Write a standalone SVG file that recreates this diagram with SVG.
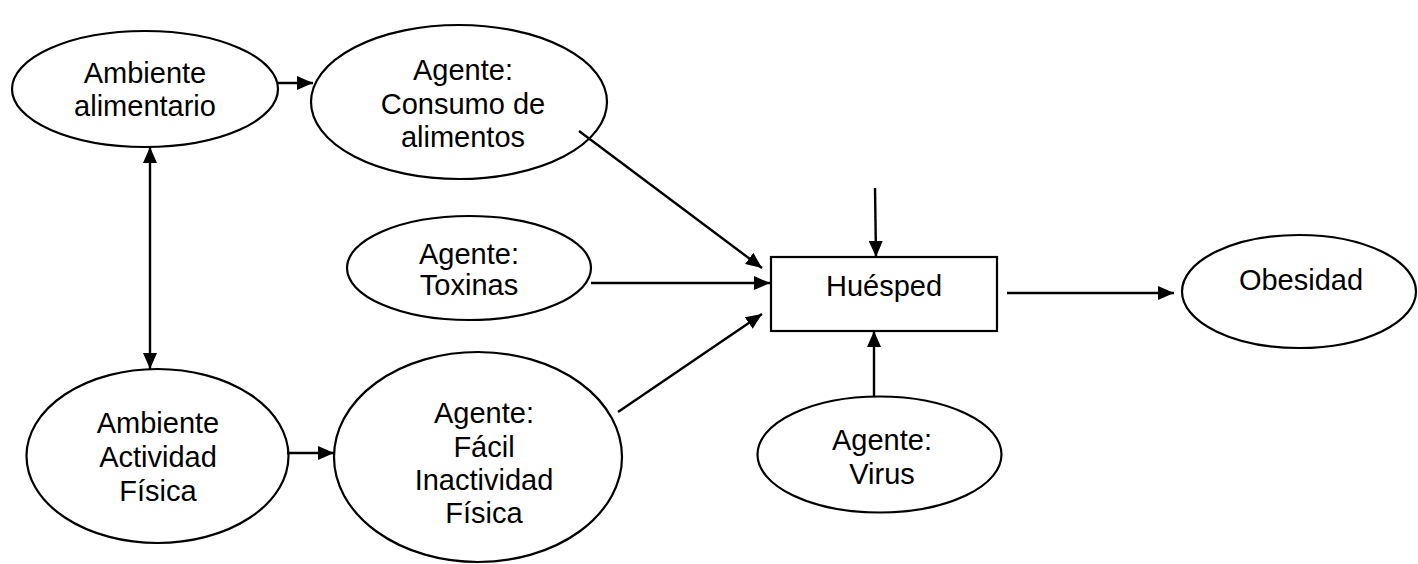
<svg xmlns="http://www.w3.org/2000/svg" width="1418" height="564" viewBox="0 0 1418 564">
  <style>
    .node { fill: #ffffff; stroke: #000000; stroke-width: 2.2; }
    .lbl { font-family: "Liberation Sans", Arial, sans-serif; font-size: 29px; fill: #000000; text-anchor: middle; }
    .edge { stroke: #000000; stroke-width: 2.4; fill: none; }
    .fwd { marker-end: url(#head); }
    .both { marker-start: url(#tail); marker-end: url(#head); }
  </style>
  <defs>
    <marker id="head" markerUnits="userSpaceOnUse" markerWidth="16" markerHeight="14" refX="16" refY="7" orient="auto">
      <path d="M0,0 L16,7 L0,14 Z" fill="#000000"/>
    </marker>
    <marker id="tail" markerUnits="userSpaceOnUse" markerWidth="16" markerHeight="14" refX="0" refY="7" orient="auto">
      <path d="M16,0 L0,7 L16,14 Z" fill="#000000"/>
    </marker>
  </defs>
  <rect width="1418" height="564" fill="#ffffff"/>

  <g id="ambiente-alimentario">
    <ellipse class="node" cx="145" cy="89" rx="133" ry="58"/>
    <text class="lbl" x="145" y="83">Ambiente</text>
    <text class="lbl" x="145" y="116">alimentario</text>
  </g>

  <g id="agente-consumo">
    <ellipse class="node" cx="459" cy="102" rx="148" ry="77"/>
    <text class="lbl" x="463" y="80">Agente:</text>
    <text class="lbl" x="463" y="114">Consumo de</text>
    <text class="lbl" x="463" y="147">alimentos</text>
  </g>

  <g id="agente-toxinas">
    <ellipse class="node" cx="469" cy="268" rx="122" ry="52"/>
    <text class="lbl" x="469" y="264">Agente:</text>
    <text class="lbl" x="469" y="295">Toxinas</text>
  </g>

  <g id="huesped">
    <rect class="node" x="771" y="257" width="226" height="74"/>
    <text class="lbl" x="884" y="296">Huésped</text>
  </g>

  <g id="obesidad">
    <ellipse class="node" cx="1299" cy="291.5" rx="117" ry="56.5"/>
    <text class="lbl" x="1301" y="290">Obesidad</text>
  </g>

  <g id="agente-virus">
    <ellipse class="node" cx="879.5" cy="454.5" rx="122" ry="58"/>
    <text class="lbl" x="882" y="450">Agente:</text>
    <text class="lbl" x="882" y="484">Virus</text>
  </g>

  <g id="ambiente-actividad">
    <ellipse class="node" cx="157.5" cy="456" rx="131" ry="87"/>
    <text class="lbl" x="158" y="433">Ambiente</text>
    <text class="lbl" x="158" y="467">Actividad</text>
    <text class="lbl" x="158" y="501">Física</text>
  </g>

  <g id="agente-inactividad">
    <ellipse class="node" cx="478" cy="457" rx="144" ry="105"/>
    <text class="lbl" x="484" y="423">Agente:</text>
    <text class="lbl" x="484" y="457">Fácil</text>
    <text class="lbl" x="484" y="490">Inactividad</text>
    <text class="lbl" x="484" y="523">Física</text>
  </g>

  <g id="connectors">
    <line class="edge fwd" x1="277" y1="83" x2="313" y2="83"/>
    <line class="edge both" x1="150" y1="147" x2="150" y2="369"/>
    <line class="edge fwd" x1="287" y1="453" x2="334" y2="453"/>
    <line class="edge fwd" x1="579" y1="131" x2="762" y2="268"/>
    <line class="edge fwd" x1="591" y1="283" x2="770" y2="283"/>
    <line class="edge fwd" x1="618" y1="412" x2="762" y2="314"/>
    <line class="edge fwd" x1="875" y1="188" x2="876" y2="257"/>
    <line class="edge fwd" x1="874" y1="397" x2="874" y2="331"/>
    <line class="edge fwd" x1="1007" y1="293" x2="1174" y2="293"/>
  </g>
</svg>
